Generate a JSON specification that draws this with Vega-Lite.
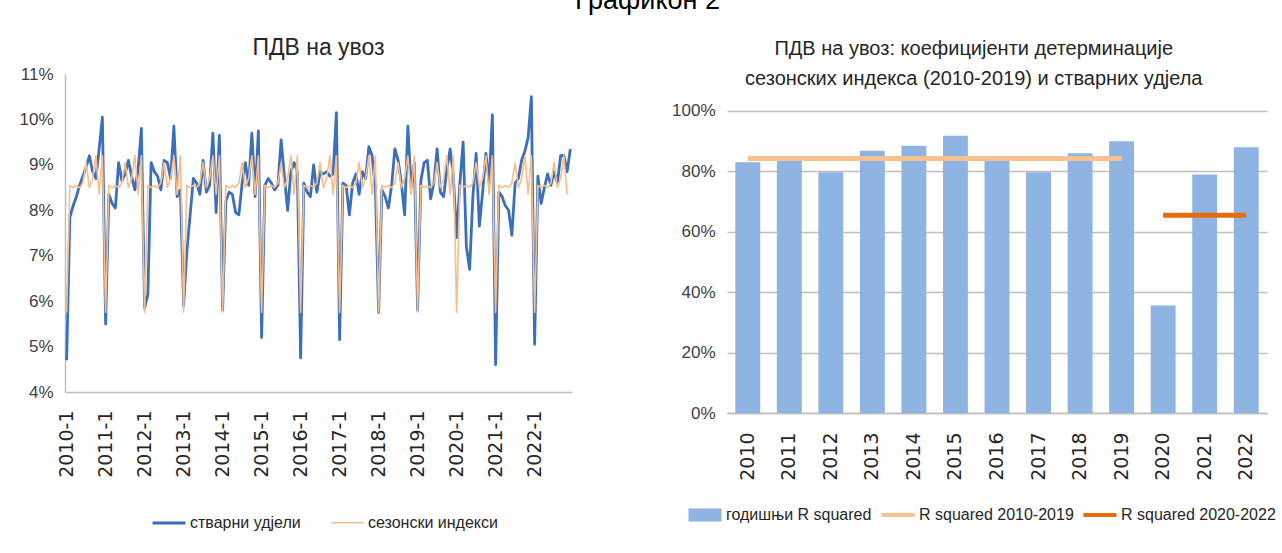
{
  "$schema": "https://vega.github.io/schema/vega-lite/v6.json",
  "background": "white",
  "padding": {"left": 18, "top": -13, "right": 4, "bottom": 0},
  "title": {"text": "Графикон 2", "font": "Liberation Sans, Arial, sans-serif", "fontSize": 27, "fontWeight": "normal", "color": "#000000", "anchor": "middle", "offset": 22},
  "config": {"view": {"stroke": null}, "font": "Liberation Sans, Arial, sans-serif"},
  "resolve": {"scale": {"color": "independent", "x": "independent", "y": "independent", "strokeWidth": "independent"}, "legend": {"color": "independent"}},
  "spacing": 99,
  "datasets": {
    "monthly": [
      {"m": "2010-1", "стварни удјели": 4.70, "сезонски индекси": 5.75},
      {"m": "2010-2", "стварни удјели": 7.85, "сезонски индекси": 8.55},
      {"m": "2010-3", "стварни удјели": 8.10, "сезонски индекси": 8.50},
      {"m": "2010-4", "стварни удјели": 8.30, "сезонски индекси": 8.55},
      {"m": "2010-5", "стварни удјели": 8.55, "сезонски индекси": 8.50},
      {"m": "2010-6", "стварни удјели": 8.75, "сезонски индекси": 8.60},
      {"m": "2010-7", "стварни удјели": 8.95, "сезонски индекси": 9.05},
      {"m": "2010-8", "стварни удјели": 9.20, "сезонски индекси": 8.50},
      {"m": "2010-9", "стварни удјели": 8.85, "сезонски индекси": 8.70},
      {"m": "2010-10", "стварни удјели": 8.70, "сезонски индекси": 9.20},
      {"m": "2010-11", "стварни удјели": 9.35, "сезонски индекси": 8.35},
      {"m": "2010-12", "стварни удјели": 10.05, "сезонски индекси": 9.20},
      {"m": "2011-1", "стварни удјели": 5.50, "сезонски индекси": 5.75},
      {"m": "2011-2", "стварни удјели": 8.35, "сезонски индекси": 8.55},
      {"m": "2011-3", "стварни удјели": 8.15, "сезонски индекси": 8.50},
      {"m": "2011-4", "стварни удјели": 8.05, "сезонски индекси": 8.55},
      {"m": "2011-5", "стварни удјели": 9.05, "сезонски индекси": 8.50},
      {"m": "2011-6", "стварни удјели": 8.65, "сезонски индекси": 8.60},
      {"m": "2011-7", "стварни удјели": 8.80, "сезонски индекси": 9.05},
      {"m": "2011-8", "стварни удјели": 9.10, "сезонски индекси": 8.50},
      {"m": "2011-9", "стварни удјели": 8.75, "сезонски индекси": 8.70},
      {"m": "2011-10", "стварни удјели": 8.45, "сезонски индекси": 9.20},
      {"m": "2011-11", "стварни удјели": 8.90, "сезонски индекси": 8.35},
      {"m": "2011-12", "стварни удјели": 9.80, "сезонски индекси": 9.20},
      {"m": "2012-1", "стварни удјели": 5.85, "сезонски индекси": 5.75},
      {"m": "2012-2", "стварни удјели": 6.15, "сезонски индекси": 8.55},
      {"m": "2012-3", "стварни удјели": 9.05, "сезонски индекси": 8.50},
      {"m": "2012-4", "стварни удјели": 8.85, "сезонски индекси": 8.55},
      {"m": "2012-5", "стварни удјели": 8.75, "сезонски индекси": 8.50},
      {"m": "2012-6", "стварни удјели": 8.45, "сезонски индекси": 8.60},
      {"m": "2012-7", "стварни удјели": 9.10, "сезонски индекси": 9.05},
      {"m": "2012-8", "стварни удјели": 9.05, "сезонски индекси": 8.50},
      {"m": "2012-9", "стварни удјели": 8.70, "сезонски индекси": 8.70},
      {"m": "2012-10", "стварни удјели": 9.85, "сезонски индекси": 9.20},
      {"m": "2012-11", "стварни удјели": 8.30, "сезонски индекси": 8.35},
      {"m": "2012-12", "стварни удјели": 8.45, "сезонски индекси": 9.20},
      {"m": "2013-1", "стварни удјели": 5.90, "сезонски индекси": 5.75},
      {"m": "2013-2", "стварни удјели": 7.10, "сезонски индекси": 8.55},
      {"m": "2013-3", "стварни удјели": 7.90, "сезонски индекси": 8.50},
      {"m": "2013-4", "стварни удјели": 8.70, "сезонски индекси": 8.55},
      {"m": "2013-5", "стварни удјели": 8.60, "сезонски индекси": 8.50},
      {"m": "2013-6", "стварни удјели": 8.35, "сезонски индекси": 8.60},
      {"m": "2013-7", "стварни удјели": 9.10, "сезонски индекси": 9.05},
      {"m": "2013-8", "стварни удјели": 8.40, "сезонски индекси": 8.50},
      {"m": "2013-9", "стварни удјели": 8.55, "сезонски индекси": 8.70},
      {"m": "2013-10", "стварни удјели": 9.70, "сезонски индекси": 9.20},
      {"m": "2013-11", "стварни удјели": 7.95, "сезонски индекси": 8.35},
      {"m": "2013-12", "стварни удјели": 9.65, "сезонски индекси": 9.20},
      {"m": "2014-1", "стварни удјели": 5.80, "сезонски индекси": 5.75},
      {"m": "2014-2", "стварни удјели": 8.20, "сезонски индекси": 8.55},
      {"m": "2014-3", "стварни удјели": 8.40, "сезонски индекси": 8.50},
      {"m": "2014-4", "стварни удјели": 8.35, "сезонски индекси": 8.55},
      {"m": "2014-5", "стварни удјели": 7.95, "сезонски индекси": 8.50},
      {"m": "2014-6", "стварни удјели": 7.90, "сезонски индекси": 8.60},
      {"m": "2014-7", "стварни удјели": 8.60, "сезонски индекси": 9.05},
      {"m": "2014-8", "стварни удјели": 9.05, "сезонски индекси": 8.50},
      {"m": "2014-9", "стварни удјели": 8.55, "сезонски индекси": 8.70},
      {"m": "2014-10", "стварни удјели": 9.70, "сезонски индекси": 9.20},
      {"m": "2014-11", "стварни удјели": 8.30, "сезонски индекси": 8.35},
      {"m": "2014-12", "стварни удјели": 9.75, "сезонски индекси": 9.20},
      {"m": "2015-1", "стварни удјели": 5.20, "сезонски индекси": 5.75},
      {"m": "2015-2", "стварни удјели": 8.55, "сезонски индекси": 8.55},
      {"m": "2015-3", "стварни удјели": 8.70, "сезонски индекси": 8.50},
      {"m": "2015-4", "стварни удјели": 8.60, "сезонски индекси": 8.55},
      {"m": "2015-5", "стварни удјели": 8.45, "сезонски индекси": 8.50},
      {"m": "2015-6", "стварни удјели": 8.55, "сезонски индекси": 8.60},
      {"m": "2015-7", "стварни удјели": 9.55, "сезонски индекси": 9.05},
      {"m": "2015-8", "стварни удјели": 8.75, "сезонски индекси": 8.50},
      {"m": "2015-9", "стварни удјели": 8.00, "сезонски индекси": 8.70},
      {"m": "2015-10", "стварни удјели": 8.85, "сезонски индекси": 9.20},
      {"m": "2015-11", "стварни удјели": 9.05, "сезонски индекси": 8.35},
      {"m": "2015-12", "стварни удјели": 8.85, "сезонски индекси": 9.20},
      {"m": "2016-1", "стварни удјели": 4.75, "сезонски индекси": 5.75},
      {"m": "2016-2", "стварни удјели": 8.60, "сезонски индекси": 8.55},
      {"m": "2016-3", "стварни удјели": 8.40, "сезонски индекси": 8.50},
      {"m": "2016-4", "стварни удјели": 8.30, "сезонски индекси": 8.55},
      {"m": "2016-5", "стварни удјели": 9.00, "сезонски индекси": 8.50},
      {"m": "2016-6", "стварни удјели": 8.40, "сезонски индекси": 8.60},
      {"m": "2016-7", "стварни удјели": 8.85, "сезонски индекси": 9.05},
      {"m": "2016-8", "стварни удјели": 8.80, "сезонски индекси": 8.50},
      {"m": "2016-9", "стварни удјели": 8.85, "сезонски индекси": 8.70},
      {"m": "2016-10", "стварни удјели": 8.75, "сезонски индекси": 9.20},
      {"m": "2016-11", "стварни удјели": 8.80, "сезонски индекси": 8.35},
      {"m": "2016-12", "стварни удјели": 10.15, "сезонски индекси": 9.20},
      {"m": "2017-1", "стварни удјели": 5.15, "сезонски индекси": 5.75},
      {"m": "2017-2", "стварни удјели": 8.60, "сезонски индекси": 8.55},
      {"m": "2017-3", "стварни удјели": 8.55, "сезонски индекси": 8.50},
      {"m": "2017-4", "стварни удјели": 7.90, "сезонски индекси": 8.55},
      {"m": "2017-5", "стварни удјели": 8.60, "сезонски индекси": 8.50},
      {"m": "2017-6", "стварни удјели": 8.80, "сезонски индекси": 8.60},
      {"m": "2017-7", "стварни удјели": 8.35, "сезонски индекси": 9.05},
      {"m": "2017-8", "стварни удјели": 8.85, "сезонски индекси": 8.50},
      {"m": "2017-9", "стварни удјели": 8.70, "сезонски индекси": 8.70},
      {"m": "2017-10", "стварни удјели": 9.40, "сезонски индекси": 9.20},
      {"m": "2017-11", "стварни удјели": 9.20, "сезонски индекси": 8.35},
      {"m": "2017-12", "стварни удјели": 8.50, "сезонски индекси": 9.20},
      {"m": "2018-1", "стварни удјели": 5.75, "сезонски индекси": 5.75},
      {"m": "2018-2", "стварни удјели": 8.45, "сезонски индекси": 8.55},
      {"m": "2018-3", "стварни удјели": 8.30, "сезонски индекси": 8.50},
      {"m": "2018-4", "стварни удјели": 8.05, "сезонски индекси": 8.55},
      {"m": "2018-5", "стварни удјели": 8.55, "сезонски индекси": 8.50},
      {"m": "2018-6", "стварни удјели": 9.35, "сезонски индекси": 8.60},
      {"m": "2018-7", "стварни удјели": 9.10, "сезонски индекси": 9.05},
      {"m": "2018-8", "стварни удјели": 8.60, "сезонски индекси": 8.50},
      {"m": "2018-9", "стварни удјели": 7.90, "сезонски индекси": 8.70},
      {"m": "2018-10", "стварни удјели": 9.85, "сезонски индекси": 9.20},
      {"m": "2018-11", "стварни удјели": 8.50, "сезонски индекси": 8.35},
      {"m": "2018-12", "стварни удјели": 9.05, "сезонски индекси": 9.20},
      {"m": "2019-1", "стварни удјели": 5.80, "сезонски индекси": 5.75},
      {"m": "2019-2", "стварни удјели": 8.65, "сезонски индекси": 8.55},
      {"m": "2019-3", "стварни удјели": 9.05, "сезонски индекси": 8.50},
      {"m": "2019-4", "стварни удјели": 9.10, "сезонски индекси": 8.55},
      {"m": "2019-5", "стварни удјели": 8.25, "сезонски индекси": 8.50},
      {"m": "2019-6", "стварни удјели": 8.60, "сезонски индекси": 8.60},
      {"m": "2019-7", "стварни удјели": 9.35, "сезонски индекси": 9.05},
      {"m": "2019-8", "стварни удјели": 8.40, "сезонски индекси": 8.50},
      {"m": "2019-9", "стварни удјели": 8.30, "сезонски индекси": 8.70},
      {"m": "2019-10", "стварни удјели": 8.90, "сезонски индекси": 9.20},
      {"m": "2019-11", "стварни удјели": 9.35, "сезонски индекси": 8.35},
      {"m": "2019-12", "стварни удјели": 8.75, "сезонски индекси": 9.20},
      {"m": "2020-1", "стварни удјели": 7.40, "сезонски индекси": 5.75},
      {"m": "2020-2", "стварни удјели": 8.60, "сезонски индекси": 8.55},
      {"m": "2020-3", "стварни удјели": 9.50, "сезонски индекси": 8.50},
      {"m": "2020-4", "стварни удјели": 7.20, "сезонски индекси": 8.55},
      {"m": "2020-5", "стварни удјели": 6.70, "сезонски индекси": 8.50},
      {"m": "2020-6", "стварни удјели": 8.30, "сезонски индекси": 8.60},
      {"m": "2020-7", "стварни удјели": 9.25, "сезонски индекси": 9.05},
      {"m": "2020-8", "стварни удјели": 7.65, "сезонски индекси": 8.50},
      {"m": "2020-9", "стварни удјели": 8.40, "сезонски индекси": 8.70},
      {"m": "2020-10", "стварни удјели": 9.25, "сезонски индекси": 9.20},
      {"m": "2020-11", "стварни удјели": 8.60, "сезонски индекси": 8.35},
      {"m": "2020-12", "стварни удјели": 10.10, "сезонски индекси": 9.20},
      {"m": "2021-1", "стварни удјели": 4.60, "сезонски индекси": 5.75},
      {"m": "2021-2", "стварни удјели": 8.40, "сезонски индекси": 8.55},
      {"m": "2021-3", "стварни удјели": 8.30, "сезонски индекси": 8.50},
      {"m": "2021-4", "стварни удјели": 8.10, "сезонски индекси": 8.55},
      {"m": "2021-5", "стварни удјели": 8.00, "сезонски индекси": 8.50},
      {"m": "2021-6", "стварни удјели": 7.45, "сезонски индекси": 8.60},
      {"m": "2021-7", "стварни удјели": 8.60, "сезонски индекси": 9.05},
      {"m": "2021-8", "стварни удјели": 8.70, "сезонски индекси": 8.50},
      {"m": "2021-9", "стварни удјели": 9.10, "сезонски индекси": 8.70},
      {"m": "2021-10", "стварни удјели": 9.30, "сезонски индекси": 9.20},
      {"m": "2021-11", "стварни удјели": 9.60, "сезонски индекси": 8.35},
      {"m": "2021-12", "стварни удјели": 10.50, "сезонски индекси": 9.20},
      {"m": "2022-1", "стварни удјели": 5.05, "сезонски индекси": 5.75},
      {"m": "2022-2", "стварни удјели": 8.75, "сезонски индекси": 8.55},
      {"m": "2022-3", "стварни удјели": 8.15, "сезонски индекси": 8.50},
      {"m": "2022-4", "стварни удјели": 8.50, "сезонски индекси": 8.55},
      {"m": "2022-5", "стварни удјели": 8.80, "сезонски индекси": 8.50},
      {"m": "2022-6", "стварни удјели": 8.55, "сезонски индекси": 8.60},
      {"m": "2022-7", "стварни удјели": 8.85, "сезонски индекси": 9.05},
      {"m": "2022-8", "стварни удјели": 8.60, "сезонски индекси": 8.50},
      {"m": "2022-9", "стварни удјели": 9.20, "сезонски индекси": 8.70},
      {"m": "2022-10", "стварни удјели": 9.20, "сезонски индекси": 9.20},
      {"m": "2022-11", "стварни удјели": 8.85, "сезонски индекси": 8.35},
      {"m": "2022-12", "стварни удјели": 9.35, "сезонски индекси": null}
    ],
    "annual": [
      {"year": "2010", "r2": 0.830, "p1": 0.843, "p2": null},
      {"year": "2011", "r2": 0.840, "p1": 0.843, "p2": null},
      {"year": "2012", "r2": 0.797, "p1": 0.843, "p2": null},
      {"year": "2013", "r2": 0.868, "p1": 0.843, "p2": null},
      {"year": "2014", "r2": 0.885, "p1": 0.843, "p2": null},
      {"year": "2015", "r2": 0.918, "p1": 0.843, "p2": null},
      {"year": "2016", "r2": 0.840, "p1": 0.843, "p2": null},
      {"year": "2017", "r2": 0.797, "p1": 0.843, "p2": null},
      {"year": "2018", "r2": 0.860, "p1": 0.843, "p2": null},
      {"year": "2019", "r2": 0.900, "p1": 0.843, "p2": null},
      {"year": "2020", "r2": 0.356, "p1": null, "p2": 0.655},
      {"year": "2021", "r2": 0.790, "p1": null, "p2": 0.655},
      {"year": "2022", "r2": 0.880, "p1": null, "p2": 0.655}
    ]
  },
  "hconcat": [
    {
      "width": 507,
      "height": 318,
      "title": {"text": "ПДВ на увоз", "fontSize": 23, "fontWeight": "normal", "color": "#262626", "offset": 5},
      "data": {"name": "monthly"},
      "transform": [{"fold": ["стварни удјели", "сезонски индекси"], "as": ["series", "value"]}],
      "mark": {"type": "line", "strokeJoin": "round"},
      "encoding": {
        "x": {
          "field": "m", "type": "ordinal", "sort": null,
          "scale": {"type": "point", "padding": 0.5},
          "axis": {"title": null, "values": ["2010-1", "2011-1", "2012-1", "2013-1", "2014-1", "2015-1", "2016-1", "2017-1", "2018-1", "2019-1", "2020-1", "2021-1", "2022-1"], "labelAngle": -90, "labelFont": "DejaVu Sans", "labelFontSize": 19, "labelColor": "#262626", "ticks": false, "tickSize": 0, "labelPadding": 18, "domainColor": "#BFBFBF", "domainWidth": 1.5, "grid": false}
        },
        "y": {
          "field": "value", "type": "quantitative",
          "scale": {"domain": [4, 11], "nice": false, "zero": false},
          "axis": {"title": null, "values": [4, 5, 6, 7, 8, 9, 10, 11], "labelExpr": "datum.value + '%'", "labelFontSize": 17, "labelColor": "#404040", "ticks": false, "tickSize": 0, "labelPadding": 12, "domainColor": "#BFBFBF", "domainWidth": 1.5, "grid": false}
        },
        "color": {
          "field": "series", "type": "nominal",
          "scale": {"domain": ["стварни удјели", "сезонски индекси"], "range": ["#3A70BB", "#F8BD8A"]},
          "legend": {
            "orient": "none", "legendX": 86, "legendY": 431, "direction": "horizontal", "title": null,
            "symbolType": "stroke", "symbolSize": 1089, "symbolStrokeWidth": 3,
            "labelFontSize": 16, "labelColor": "#262626", "labelOffset": 3, "columnPadding": 26, "labelLimit": 400,
            "encode": {"symbols": {"update": {"strokeWidth": {"signal": "datum.value === 'стварни удјели' ? 3 : 2"}}}}
          }
        },
        "strokeWidth": {
          "field": "series", "type": "nominal",
          "scale": {"domain": ["стварни удјели", "сезонски индекси"], "range": [2.8, 1.6]},
          "legend": null
        }
      }
    },
    {
      "width": 540,
      "height": 339,
      "title": {"text": ["ПДВ на увоз: коефицијенти детерминације", "сезонских индекса (2010-2019) и стварних удјела"], "fontSize": 20, "lineHeight": 30, "fontWeight": "normal", "color": "#262626", "offset": -15, "frame": "bounds"},
      "data": {"name": "annual"},
      "encoding": {
        "x": {
          "field": "year", "type": "ordinal",
          "scale": {"paddingInner": 0.4, "paddingOuter": 0.2},
          "axis": {"title": null, "labelAngle": -90, "labelFont": "DejaVu Sans", "labelFontSize": 19, "labelColor": "#262626", "ticks": false, "tickSize": 0, "labelPadding": 19, "domainColor": "#BFBFBF", "domainWidth": 1.5}
        }
      },
      "layer": [
        {
          "mark": {"type": "bar"},
          "encoding": {
            "y": {"field": "r2", "type": "quantitative", "scale": {"domain": [0, 1.1225], "nice": false},
              "axis": {"title": null, "values": [0, 0.2, 0.4, 0.6, 0.8, 1], "format": ".0%", "labelFontSize": 17, "labelColor": "#404040", "ticks": false, "tickSize": 0, "labelPadding": 12, "domain": false, "grid": true, "gridColor": "#BFBFBF", "gridWidth": 1.5}},
            "color": {
              "datum": "годишњи R squared",
              "scale": {"domain": ["годишњи R squared", "R squared 2010-2019", "R squared 2020-2022"], "range": ["#8DB4E2", "#FAC090", "#E46C0A"]},
              "legend": {
                "orient": "none", "legendX": -30, "legendY": 433, "direction": "horizontal", "title": null,
                "symbolSize": 1089, "labelFontSize": 16, "labelColor": "#262626", "labelOffset": 13, "columnPadding": 1, "labelLimit": 400,
                "encode": {"symbols": {"update": {
                  "shape": {"signal": "datum.value === 'годишњи R squared' ? 'M-1,-0.4H1V0.4H-1Z' : 'stroke'"},
                  "size": {"value": 1089},
                  "fill": {"signal": "datum.value === 'годишњи R squared' ? '#8DB4E2' : datum.value === 'R squared 2010-2019' ? '#FAC090' : '#E46C0A'"},
                  "stroke": {"signal": "datum.value === 'годишњи R squared' ? '#8DB4E2' : datum.value === 'R squared 2010-2019' ? '#FAC090' : '#E46C0A'"},
                  "strokeWidth": {"signal": "datum.value === 'годишњи R squared' ? 0 : 4"},
                  "opacity": {"value": 1},
                  "fillOpacity": {"value": 1}
                }}}
              }
            }
          }
        },
        {
          "mark": {"type": "line", "strokeWidth": 5},
          "encoding": {
            "y": {"field": "p1", "type": "quantitative", "axis": {"title": null}},
            "color": {"datum": "R squared 2010-2019"}
          }
        },
        {
          "mark": {"type": "line", "strokeWidth": 5},
          "encoding": {
            "y": {"field": "p2", "type": "quantitative", "axis": {"title": null}},
            "color": {"datum": "R squared 2020-2022"}
          }
        }
      ]
    }
  ]
}
